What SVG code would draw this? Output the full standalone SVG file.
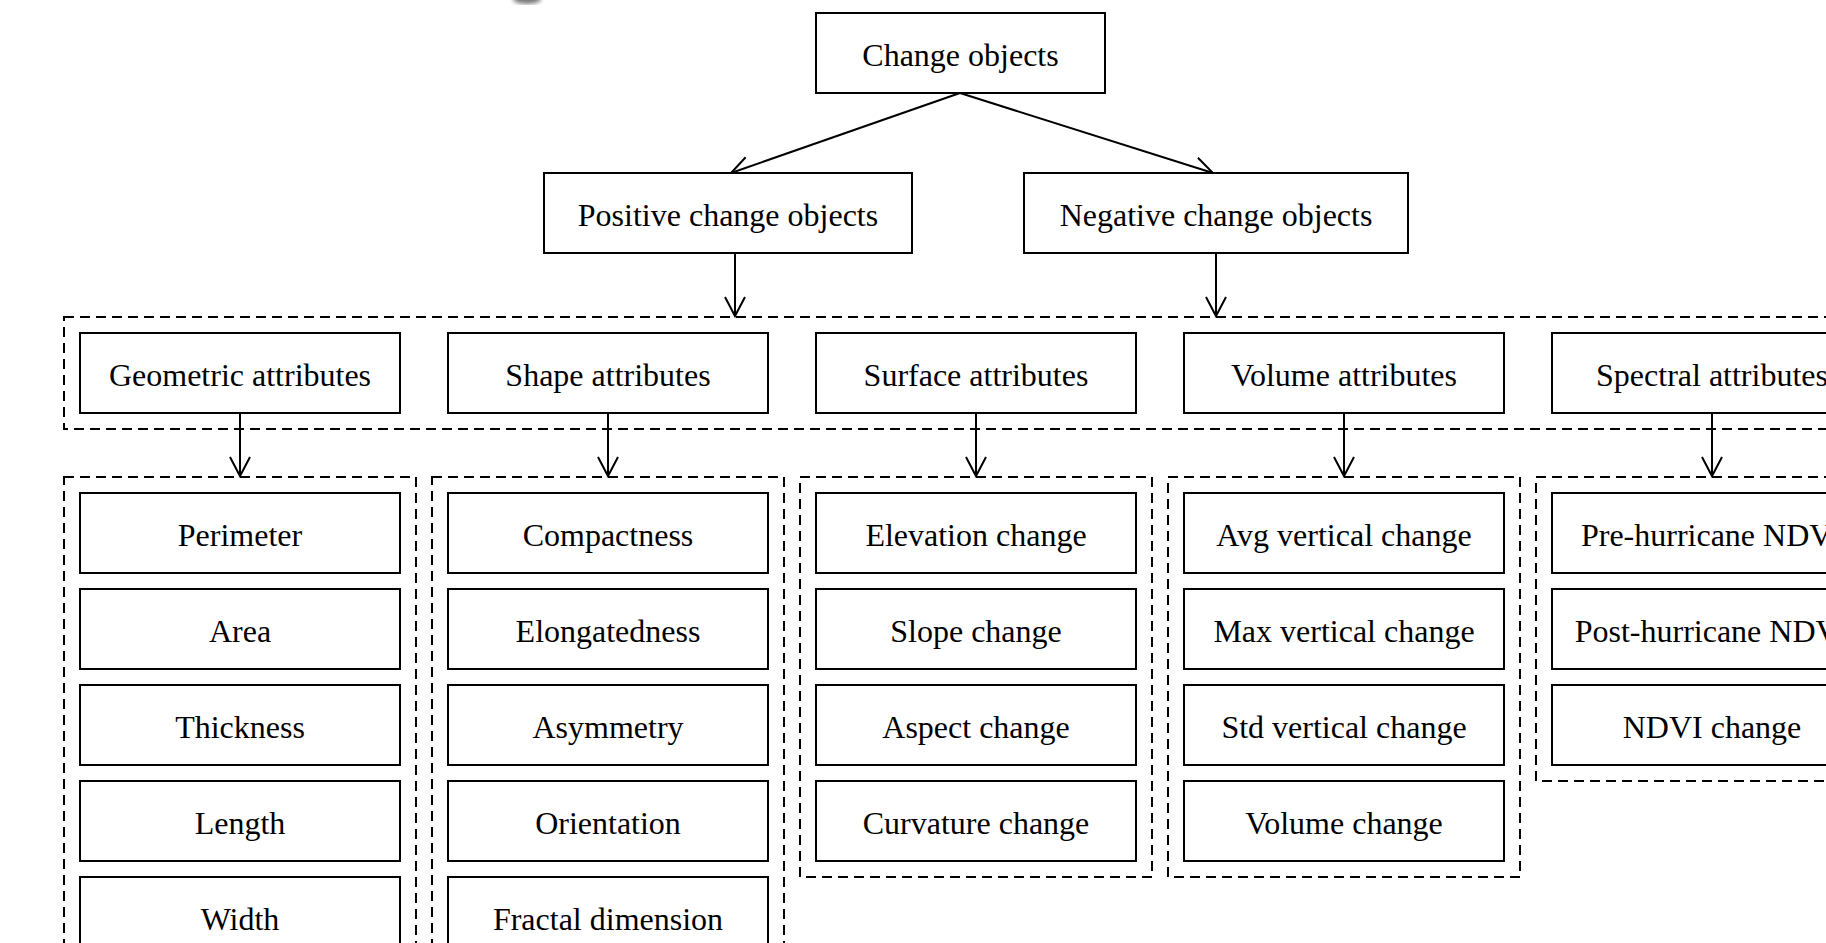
<svg xmlns="http://www.w3.org/2000/svg" width="1826" height="943" viewBox="0 0 1826 943">
<style>
.box{fill:#fff;stroke:#000;stroke-width:2}
.grp{fill:none;stroke:#000;stroke-width:2;stroke-dasharray:10,6}
.t{font-family:"Liberation Serif","Times New Roman",serif;font-size:32px;fill:#000;text-anchor:middle}
.c{fill:none;stroke:#000;stroke-width:2}
</style>
<defs>
<marker id="ah" markerUnits="userSpaceOnUse" markerWidth="26" markerHeight="26" viewBox="-22 -13 26 26" refX="0" refY="0" orient="auto">
<path d="M-19,-10 L0,0 L-19,10" fill="none" stroke="#000" stroke-width="2"/>
</marker>
<filter id="blur"><feGaussianBlur stdDeviation="2"/></filter>
</defs>
<rect width="1826" height="943" fill="#fff"/>
<ellipse cx="527" cy="-1" rx="14" ry="5" fill="#777" filter="url(#blur)"/>

<g id="groups">
<rect class="grp" x="64" y="317" width="1850" height="112"/>
<rect class="grp" x="64" y="477" width="352" height="500"/>
<rect class="grp" x="432" y="477" width="352" height="500"/>
<rect class="grp" x="800" y="477" width="352" height="400"/>
<rect class="grp" x="1168" y="477" width="352" height="400"/>
<rect class="grp" x="1536" y="477" width="352" height="304"/>
</g>

<g id="connectors">
<line class="c" x1="960" y1="93" x2="731" y2="173" marker-end="url(#ah)"/>
<line class="c" x1="960" y1="93" x2="1213" y2="173" marker-end="url(#ah)"/>
<line class="c" x1="735" y1="253" x2="735" y2="316" marker-end="url(#ah)"/>
<line class="c" x1="1216" y1="253" x2="1216" y2="316" marker-end="url(#ah)"/>
<line class="c" x1="240" y1="413" x2="240" y2="476" marker-end="url(#ah)"/>
<line class="c" x1="608" y1="413" x2="608" y2="476" marker-end="url(#ah)"/>
<line class="c" x1="976" y1="413" x2="976" y2="476" marker-end="url(#ah)"/>
<line class="c" x1="1344" y1="413" x2="1344" y2="476" marker-end="url(#ah)"/>
<line class="c" x1="1712" y1="413" x2="1712" y2="476" marker-end="url(#ah)"/>
</g>

<g id="change-objects"><rect class="box" x="816" y="13" width="289" height="80"/><text class="t" x="960.5" y="66">Change objects</text></g>
<g id="positive"><rect class="box" x="544" y="173" width="368" height="80"/><text class="t" x="728" y="226">Positive change objects</text></g>
<g id="negative"><rect class="box" x="1024" y="173" width="384" height="80"/><text class="t" x="1216" y="226">Negative change objects</text></g>

<g id="geometric"><rect class="box" x="80" y="333" width="320" height="80"/><text class="t" x="240" y="386">Geometric attributes</text></g>
<g id="shape"><rect class="box" x="448" y="333" width="320" height="80"/><text class="t" x="608" y="386">Shape attributes</text></g>
<g id="surface"><rect class="box" x="816" y="333" width="320" height="80"/><text class="t" x="976" y="386">Surface attributes</text></g>
<g id="volume"><rect class="box" x="1184" y="333" width="320" height="80"/><text class="t" x="1344" y="386">Volume attributes</text></g>
<g id="spectral"><rect class="box" x="1552" y="333" width="320" height="80"/><text class="t" x="1712" y="386">Spectral attributes</text></g>

<g id="perimeter"><rect class="box" x="80" y="493" width="320" height="80"/><text class="t" x="240" y="546">Perimeter</text></g>
<g id="area"><rect class="box" x="80" y="589" width="320" height="80"/><text class="t" x="240" y="642">Area</text></g>
<g id="thickness"><rect class="box" x="80" y="685" width="320" height="80"/><text class="t" x="240" y="738">Thickness</text></g>
<g id="length"><rect class="box" x="80" y="781" width="320" height="80"/><text class="t" x="240" y="834">Length</text></g>
<g id="width"><rect class="box" x="80" y="877" width="320" height="80"/><text class="t" x="240" y="930">Width</text></g>

<g id="compactness"><rect class="box" x="448" y="493" width="320" height="80"/><text class="t" x="608" y="546">Compactness</text></g>
<g id="elongatedness"><rect class="box" x="448" y="589" width="320" height="80"/><text class="t" x="608" y="642">Elongatedness</text></g>
<g id="asymmetry"><rect class="box" x="448" y="685" width="320" height="80"/><text class="t" x="608" y="738">Asymmetry</text></g>
<g id="orientation"><rect class="box" x="448" y="781" width="320" height="80"/><text class="t" x="608" y="834">Orientation</text></g>
<g id="fractal"><rect class="box" x="448" y="877" width="320" height="80"/><text class="t" x="608" y="930">Fractal dimension</text></g>

<g id="elevation"><rect class="box" x="816" y="493" width="320" height="80"/><text class="t" x="976" y="546">Elevation change</text></g>
<g id="slope"><rect class="box" x="816" y="589" width="320" height="80"/><text class="t" x="976" y="642">Slope change</text></g>
<g id="aspect"><rect class="box" x="816" y="685" width="320" height="80"/><text class="t" x="976" y="738">Aspect change</text></g>
<g id="curvature"><rect class="box" x="816" y="781" width="320" height="80"/><text class="t" x="976" y="834">Curvature change</text></g>

<g id="avg-vertical"><rect class="box" x="1184" y="493" width="320" height="80"/><text class="t" x="1344" y="546">Avg vertical change</text></g>
<g id="max-vertical"><rect class="box" x="1184" y="589" width="320" height="80"/><text class="t" x="1344" y="642">Max vertical change</text></g>
<g id="std-vertical"><rect class="box" x="1184" y="685" width="320" height="80"/><text class="t" x="1344" y="738">Std vertical change</text></g>
<g id="volume-change"><rect class="box" x="1184" y="781" width="320" height="80"/><text class="t" x="1344" y="834">Volume change</text></g>

<g id="pre-ndvi"><rect class="box" x="1552" y="493" width="320" height="80"/><text class="t" x="1712" y="546">Pre-hurricane NDVI</text></g>
<g id="post-ndvi"><rect class="box" x="1552" y="589" width="320" height="80"/><text class="t" x="1712" y="642">Post-hurricane NDVI</text></g>
<g id="ndvi-change"><rect class="box" x="1552" y="685" width="320" height="80"/><text class="t" x="1712" y="738">NDVI change</text></g>
</svg>
